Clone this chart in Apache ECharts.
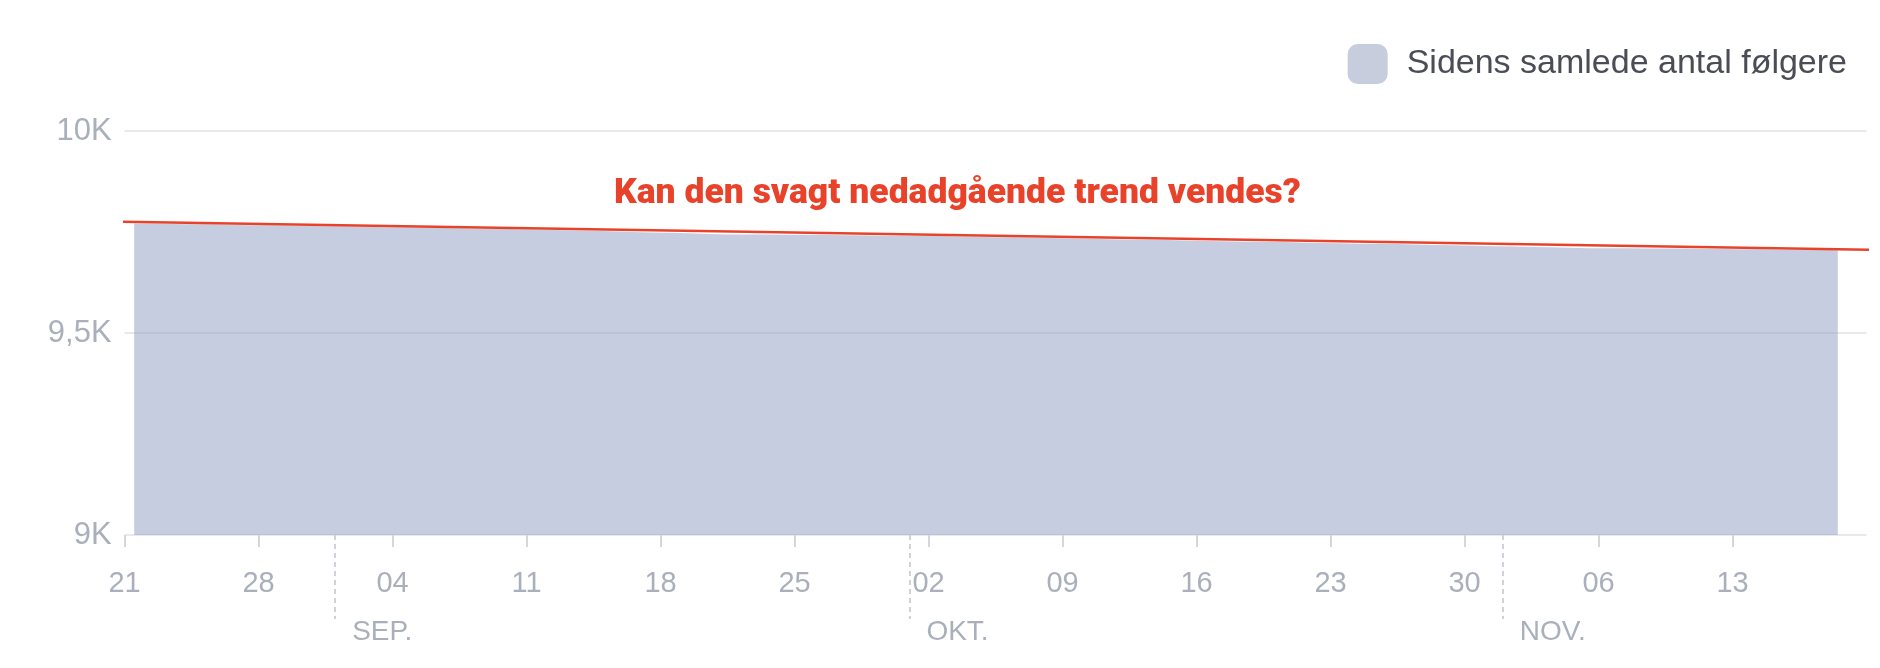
<!DOCTYPE html>
<html>
<head>
<meta charset="utf-8">
<script src="https://cdn.jsdelivr.net/npm/echarts@6/dist/echarts.min.js"></script>
<style>
html,body{margin:0;padding:0;background:#fff;}
#chart{width:1880px;height:668px;}
</style>
</head>
<body>
<div id="chart"></div>
<script>
// ---- data ----
const startDate = '2023-08-21';          // first day on the x axis (Monday)
const endDate = '2023-11-20';            // last tick of the x axis
const seriesName = 'Sidens samlede antal følgere';
// daily total followers, 21 Aug .. 18 Nov 2023
const followers = [
  9771, 9771, 9770, 9769, 9769, 9768, 9767,
  9767, 9766, 9765, 9764, 9764, 9763, 9762,
  9762, 9761, 9760, 9759, 9758, 9758, 9757,
  9756, 9755, 9754, 9753, 9752, 9750, 9749,
  9748, 9747, 9745, 9744, 9744, 9744, 9743,
  9743, 9743, 9742, 9742, 9741, 9741, 9740,
  9740, 9739, 9738, 9737, 9737, 9736, 9735,
  9734, 9733, 9732, 9731, 9731, 9730, 9729,
  9728, 9727, 9726, 9725, 9725, 9724, 9723,
  9722, 9721, 9721, 9720, 9719, 9718, 9717,
  9716, 9715, 9714, 9713, 9712, 9711, 9710,
  9710, 9710, 9709, 9709, 9709, 9708, 9708,
  9707, 9707, 9706, 9706, 9706, 9705
];
const monthStarts = ['2023-09-01', '2023-10-01', '2023-11-01'];
const monthLabels = ['SEP.', 'OKT.', 'NOV.'];
const yTicks = [9000, 9500, 10000];
const yTickLabels = ['9K', '9,5K', '10K'];
// trend annotation: [day offset from startDate, followers]
const trendStart = [-1.2, 9776];
const trendEnd = [91.3, 9706];
const annotation = 'Kan den svagt nedadgående trend vendes?';

// ---- helpers ----
const DAY = 86400000;
const t0 = Date.parse(startDate + 'T00:00:00Z');
const dayOffset = d => (Date.parse(d + 'T00:00:00Z') - t0) / DAY;
const xMax = dayOffset(endDate);
const areaData = followers.map((v, i) => [i + 0.5, v]);
const monthVals = monthStarts.map(dayOffset);
const dayLabel = v => {
  const d = new Date(t0 + v * DAY);
  return String(d.getUTCDate()).padStart(2, '0');
};

const AREA = 'rgba(146,160,196,0.52)';
const LABEL = '#aab0bb';
const FONT = '"Liberation Sans", Arial, sans-serif';

const chart = echarts.init(document.getElementById('chart'), null, {renderer: 'canvas'});
chart.setOption({
  animation: false,
  title: {
    text: annotation,
    left: 614,
    top: 176,
    padding: 0,
    textStyle: {color: '#e8432a', fontSize: 35.5, fontWeight: 900, fontFamily: 'Roboto, sans-serif'}
  },
  legend: {
    right: 28,
    top: 39,
    itemWidth: 40,
    itemHeight: 40,
    icon: 'roundRect',
    data: [{name: seriesName, itemStyle: {color: '#c7cddd'}}],
    textStyle: {fontSize: 34, color: '#4a4d56', fontFamily: FONT, padding: [0, 0, 0, 14]}
  },
  grid: {left: 124.6, right: 13.5, top: 131, bottom: 133, containLabel: false},
  xAxis: [
    {
      type: 'value', min: 0, max: xMax, interval: 7,
      axisLine: {show: false},
      axisTick: {show: true, length: 12, lineStyle: {color: '#d3d6dc', width: 2}},
      splitLine: {show: false},
      axisLabel: {
        margin: 34, fontSize: 29, color: LABEL, fontFamily: FONT,
        showMaxLabel: false,
        formatter: v => (v >= xMax ? '' : dayLabel(v))
      }
    },
    {
      type: 'value', min: 0, max: xMax, position: 'bottom',
      axisLine: {show: false},
      splitLine: {show: false},
      axisTick: {show: true, customValues: monthVals, length: 84,
        lineStyle: {color: '#cfd2d8', width: 2, type: [5, 4]}},
      axisLabel: {
        customValues: monthVals, margin: 83, fontSize: 28, color: LABEL, fontFamily: FONT,
        align: 'left', padding: [0, 0, 0, 17],
        formatter: v => monthLabels[monthVals.indexOf(v)] || ''
      }
    }
  ],
  yAxis: {
    type: 'value', min: yTicks[0], max: yTicks[yTicks.length - 1], interval: yTicks[1] - yTicks[0],
    axisLine: {show: false}, axisTick: {show: false},
    splitLine: {lineStyle: {color: '#e8e9ed', width: 2}},
    axisLabel: {
      margin: 13, fontSize: 31, color: LABEL, fontFamily: FONT,
      formatter: v => yTickLabels[yTicks.indexOf(v)]
    }
  },
  series: [
    {
      name: seriesName, type: 'line', xAxisIndex: 0,
      data: areaData, showSymbol: false, symbol: 'none',
      lineStyle: {width: 0, opacity: 0},
      itemStyle: {color: '#c7cddd'},
      areaStyle: {color: AREA, opacity: 1, origin: 'start'}
    },
    {
      name: 'trend', type: 'line', xAxisIndex: 0, clip: false,
      data: [trendStart, trendEnd], showSymbol: false, symbol: 'none',
      lineStyle: {color: '#e8432a', width: 2.5},
      z: 5
    }
  ]
});
</script>
</body>
</html>
